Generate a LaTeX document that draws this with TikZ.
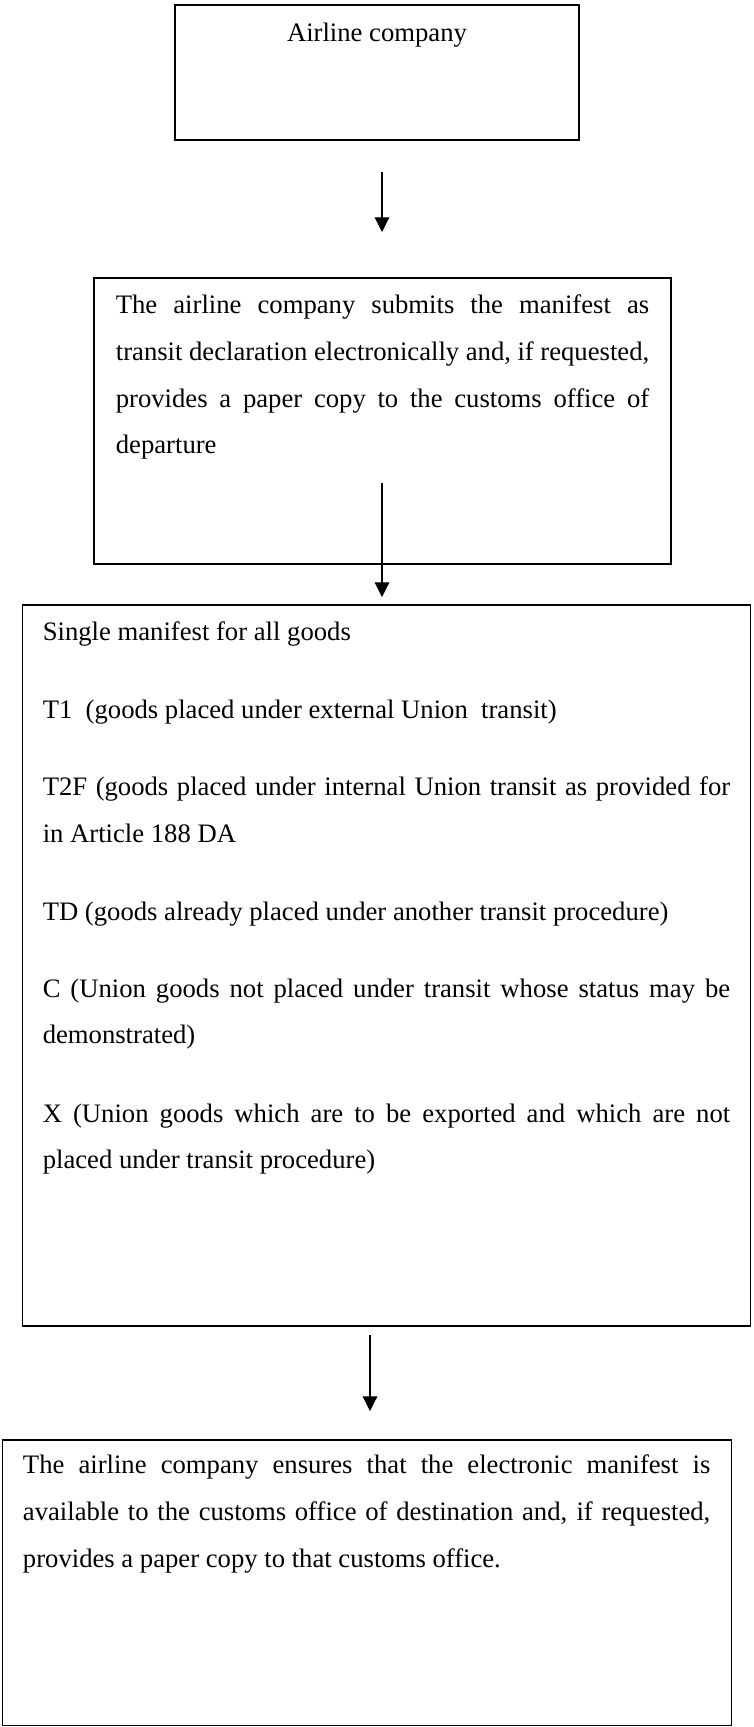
\documentclass[tikz,border=0pt]{standalone}
\usepackage{fontspec}
\setmainfont{Liberation Serif}
\usetikzlibrary{fit,arrows.meta}
\begin{document}
\begin{tikzpicture}[x=0.75pt,y=-0.75pt,
  boxst/.style={draw=black, line width=1.1pt, inner sep=0pt, fill=none},
  txt/.style={anchor=base west, inner sep=0pt, font=\fontsize{20}{24}\selectfont},
  ctxt/.style={anchor=base, inner sep=0pt, font=\fontsize{20}{24}\selectfont},
  arr/.style={draw=black, line width=0.8pt, -{Triangle[length=11pt,width=11pt]}}]
\useasboundingbox (0,0) rectangle (753,1727);

% boxes
\node[boxst, fit={(175,5)(579,140)}] (b1) {};
\node[boxst, fit={(94,278)(671,564)}] (b2) {};
\node[boxst, fit={(22.5,605)(750.5,1326)}] (b3) {};
\node[boxst, fit={(2.7,1440)(731.7,1725.6)}] (b4) {};

% box 1 text
\node[ctxt] (t1) at (377,42) {Airline company};

% box 2 text
\node[txt] (t2a) at (115.6,313) {\makebox[400pt][s]{The airline company submits the manifest as}};
\node[txt] (t2b) at (115.6,360) {\makebox[400pt][s]{transit declaration electronically and, if requested,}};
\node[txt] (t2c) at (115.6,407) {\makebox[400pt][s]{provides a paper copy to the customs office of}};
\node[txt] (t2d) at (115.6,453) {departure};

% box 3 text
\node[txt] (t3a) at (42.5,640) {Single manifest for all goods};
\node[txt] (t3b) at (42.5,718) {T1\ \ (goods placed under external Union\ \ transit)};
\node[txt] (t3c) at (42.5,795) {\makebox[515.6pt][s]{T2F (goods placed under internal Union transit as provided for}};
\node[txt] (t3d) at (42.5,842) {in Article 188 DA};
\node[txt] (t3e) at (42.5,920) {TD (goods already placed under another transit procedure)};
\node[txt] (t3f) at (42.5,997) {\makebox[515.6pt][s]{C (Union goods not placed under transit whose status may be}};
\node[txt] (t3g) at (42.5,1043) {demonstrated)};
\node[txt] (t3h) at (42.5,1122) {\makebox[515.6pt][s]{X (Union goods which are to be exported and which are not}};
\node[txt] (t3i) at (42.5,1168) {placed under transit procedure)};

% box 4 text
\node[txt] (t4a) at (22.7,1473) {\makebox[515.5pt][s]{The airline company ensures that the electronic manifest is}};
\node[txt] (t4b) at (22.7,1520) {\makebox[515.5pt][s]{available to the customs office of destination and, if requested,}};
\node[txt] (t4c) at (22.7,1567) {provides a paper copy to that customs office.};

% connector end points
\coordinate (a1s) at (382,172);
\coordinate (a1e) at (382,232);
\coordinate (a2s) at (382,483);
\coordinate (a2e) at (382,597);
\coordinate (a3s) at (370,1335);
\coordinate (a3e) at (370,1411);

\draw[arr] (a1s) -- (a1e);
\draw[arr] (a2s) -- (a2e);
\draw[arr] (a3s) -- (a3e);
\end{tikzpicture}
\end{document}
